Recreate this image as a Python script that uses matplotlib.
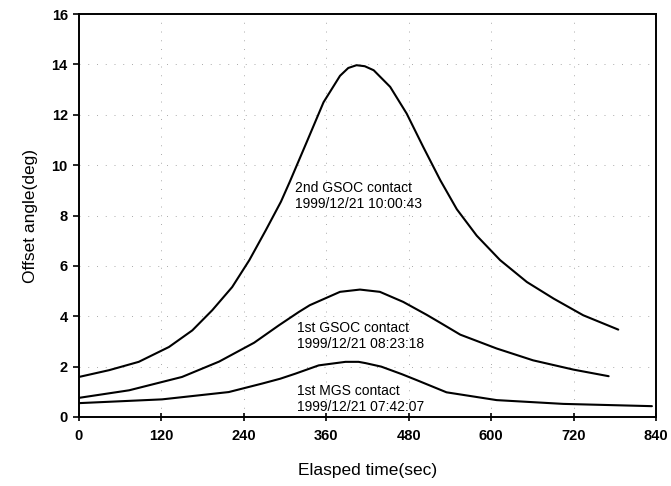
import matplotlib
matplotlib.use("Agg")
import matplotlib.pyplot as plt

plt.rcParams["font.family"] = ["Liberation Sans", "DejaVu Sans"]

# elapsed time (sec) / offset angle (deg) for each contact
gsoc2_t = [0, 44, 87, 131, 165, 194, 223, 248, 272, 294, 307, 332, 356, 380, 392,
           404, 416, 429, 453, 477, 501, 526, 550, 579, 613, 652, 691, 734, 785]
gsoc2_a = [1.59, 1.86, 2.19, 2.78, 3.44, 4.24, 5.16, 6.23, 7.42, 8.55, 9.35, 10.95, 12.5, 13.55, 13.86,
           13.97, 13.93, 13.77, 13.11, 12.05, 10.73, 9.4, 8.25, 7.2, 6.23, 5.36, 4.7, 4.04, 3.47]

gsoc1_t = [0, 73, 150, 204, 255, 291, 320, 336, 380, 409, 438, 472, 506, 526, 555,
           608, 661, 720, 771]
gsoc1_a = [0.76, 1.06, 1.59, 2.2, 2.95, 3.64, 4.17, 4.44, 4.97, 5.06, 4.97, 4.57, 4.06, 3.74, 3.27,
           2.72, 2.25, 1.88, 1.62]

mgs_t = [0, 121, 218, 267, 293, 315, 349, 388, 407, 417, 440, 470, 492, 535, 608, 705, 834]
mgs_a = [0.55, 0.7, 0.99, 1.33, 1.52, 1.72, 2.05, 2.19, 2.19, 2.14, 2.0, 1.7, 1.46, 0.98, 0.67, 0.52, 0.43]

labels = [
    ("2nd GSOC contact\n1999/12/21 10:00:43", 314, 8.78),
    ("1st GSOC contact\n1999/12/21 08:23:18", 317, 3.23),
    ("1st MGS contact\n1999/12/21 07:42:07", 317, 0.73),
]

fig = plt.figure(figsize=(6.71, 4.86), dpi=100)
ax = fig.add_axes([0.1177, 0.142, 0.86, 0.829])

for t, a in [(gsoc2_t, gsoc2_a), (gsoc1_t, gsoc1_a), (mgs_t, mgs_a)]:
    ax.plot(t, a, color="black", lw=1.5, solid_capstyle="round", solid_joinstyle="round")

for text, x, y in labels:
    ax.text(x, y, text, ha="left", va="center", fontsize=10, linespacing=1.2)

ax.set_xlim(0, 840)
ax.set_ylim(0, 16)
ax.set_xticks(range(0, 841, 120))
ax.set_yticks(range(0, 17, 2))
ax.grid(True, color="#aaaaaa", lw=0.7, linestyle=(0, (1, 8)))

for s in ax.spines.values():
    s.set_linewidth(1.4)

ax.tick_params(axis="x", direction="inout", length=6, width=1.2, pad=6)
ax.tick_params(axis="y", direction="out", length=4, width=1.2, pad=4)
for lbl in ax.get_xticklabels() + ax.get_yticklabels():
    lbl.set_fontweight("bold")
    lbl.set_fontsize(10.5)

ax.set_xlabel("Elasped time(sec)", fontsize=12.5, labelpad=14)
ax.set_ylabel("Offset angle(deg)", fontsize=12.5, labelpad=10)

fig.savefig("out.png", dpi=100)
